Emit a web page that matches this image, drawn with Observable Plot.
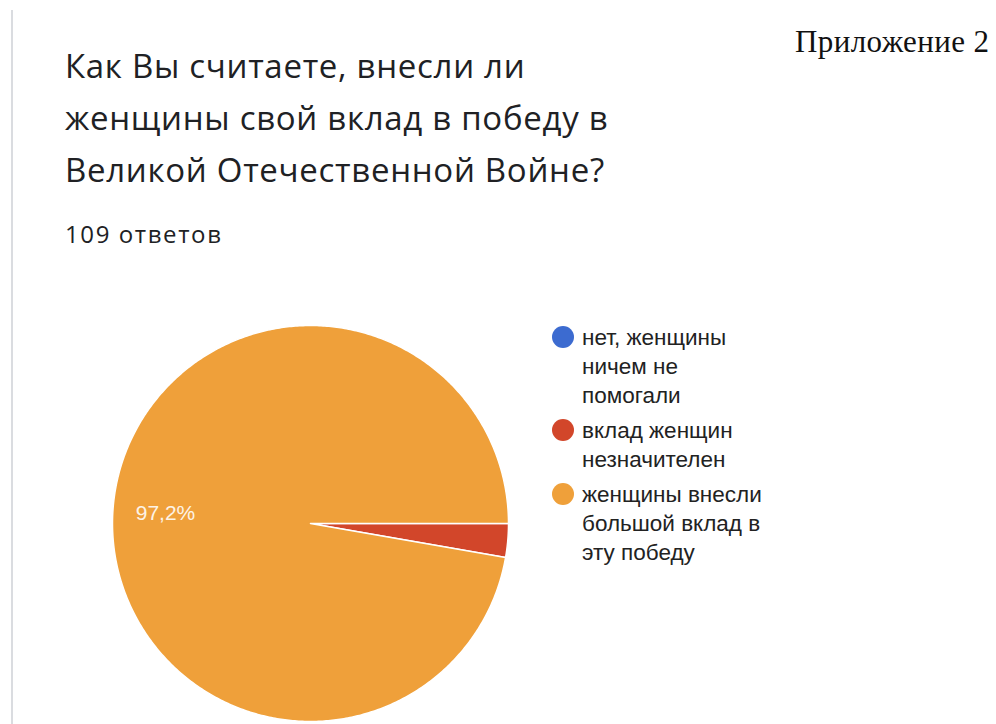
<!DOCTYPE html>
<html>
<head>
<meta charset="utf-8">
<script src="https://cdn.jsdelivr.net/npm/d3@7"></script>
<script src="https://cdn.jsdelivr.net/npm/@observablehq/plot@0.6"></script>
<style>
  html, body { margin: 0; padding: 0; background: #fff; }
  #page { position: relative; width: 996px; height: 724px; overflow: hidden; background: #fff; }
  #rule { position: absolute; left: 11px; top: 10px; width: 2px; height: 720px; background: #dadce0; }
  #title { position: absolute; left: 65px; top: 40px; font-family: "Open Sans", Roboto, sans-serif; font-size: 33px; line-height: 52px; letter-spacing: 0.7px; color: #202124; width: 620px; white-space: nowrap; }
  #subtitle { position: absolute; left: 65px; top: 217px; font-family: "Open Sans", Roboto, sans-serif; font-size: 24px; letter-spacing: 1.6px; color: #202124; white-space: nowrap; }
  #appendix { position: absolute; left: 795px; top: 24px; font-family: "Liberation Serif", "Times New Roman", serif; font-size: 31px; letter-spacing: 0.4px; color: #111; white-space: nowrap; }
  #chart { position: absolute; left: 0; top: 260px; }
  #legend { position: absolute; left: 552px; top: 323px; font-family: "Liberation Sans", Arial, sans-serif; font-size: 22.5px; line-height: 29px; color: #222; }
  .item { position: relative; padding-left: 30px; width: 195px; margin-bottom: 6px; }
  .sw { position: absolute; left: 0; top: 3px; width: 22px; height: 22px; border-radius: 50%; }
</style>
</head>
<body>
<div id="page">
  <div id="rule"></div>
  <div id="title"></div>
  <div id="subtitle"></div>
  <div id="appendix"></div>
  <div id="chart"></div>
  <div id="legend"></div>
</div>
<script>
// ---- data ----
const titleLines = ["Как Вы считаете, внесли ли", "женщины свой вклад в победу в", "Великой Отечественной Войне?"];
const subtitle = "109 ответов";
const appendix = "Приложение 2";
const categories = ["нет, женщины ничем не помогали", "вклад женщин незначителен", "женщины внесли большой вклад в эту победу"];
const counts = [0, 3, 106];
const colors = ["#3c6bd0", "#d2462a", "#efa03a"];

// ---- text ----
document.getElementById("title").innerHTML = titleLines.join("<br>");
document.getElementById("subtitle").textContent = subtitle;
document.getElementById("appendix").textContent = appendix;
const legend = document.getElementById("legend");
categories.forEach((c, i) => {
  const d = document.createElement("div");
  d.className = "item";
  d.innerHTML = `<span class="sw" style="background:${colors[i]}"></span>${c}`;
  legend.appendChild(d);
});

// ---- pie geometry from data ----
const total = d3.sum(counts);
const arcs = d3.pie().sort(null).startAngle(Math.PI / 2).endAngle(Math.PI / 2 + 2 * Math.PI)(counts);
const pts = [];
arcs.forEach((a, i) => {
  if (a.endAngle - a.startAngle <= 0) return;
  const n = Math.max(2, Math.ceil((a.endAngle - a.startAngle) / 0.01));
  pts.push({cat: categories[i], x: 0, y: 0});
  for (let k = 0; k <= n; k++) {
    const t = a.startAngle + (a.endAngle - a.startAngle) * k / n;
    pts.push({cat: categories[i], x: Math.sin(t), y: -Math.cos(t)});
  }
  pts.push({cat: categories[i], x: 0, y: 0});
});
const labels = arcs.map((a, i) => {
  const m = (a.startAngle + a.endAngle) / 2;
  const share = counts[i] / total;
  return {cat: categories[i], share, x: 0.735 * Math.sin(m), y: -0.735 * Math.cos(m)};
}).filter(d => d.share > 0.05);

const W = 996, H = 464, cx = 310, cy = 263, R = 198;
const chart = Plot.plot({
  width: W, height: H,
  margin: 0,
  x: {domain: [-1, 1], range: [cx - R, cx + R], axis: null},
  y: {domain: [-1, 1], range: [cy - R, cy + R], axis: null},
  color: {domain: categories, range: colors},
  style: {background: "transparent"},
  marks: [
    Plot.line(pts, {x: "x", y: "y", z: "cat", fill: "cat", stroke: "#fff", strokeWidth: 1.5, curve: "linear"}),
    Plot.text(labels, {x: "x", y: "y", dy: 2, text: d => (Math.round(d.share * 1000) / 10).toFixed(1).replace(".", ",") + "%",
      fill: "#fdf3e6", fontSize: 21, fontFamily: "Liberation Sans, Arial, sans-serif", textAnchor: "middle"})
  ]
});
document.getElementById("chart").appendChild(chart);
</script>
</body>
</html>
